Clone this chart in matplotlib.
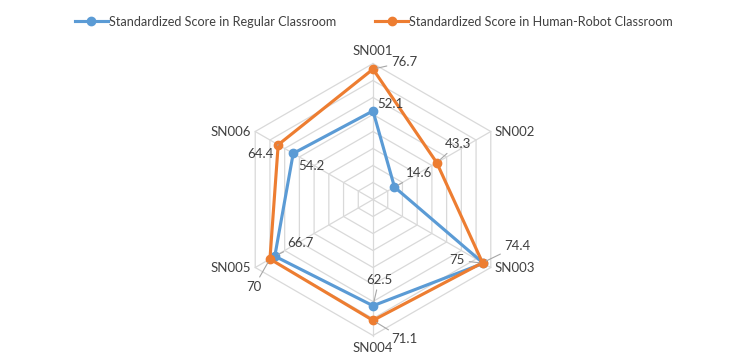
import numpy as np
import matplotlib
matplotlib.use("Agg")
import matplotlib.pyplot as plt

categories = ["SN001", "SN002", "SN003", "SN004", "SN005", "SN006"]
regular = [52.1, 14.6, 75, 62.5, 66.7, 54.2]
robot = [76.7, 43.3, 74.4, 71.1, 70, 64.4]
series_names = ["Standardized Score in Regular Classroom",
                "Standardized Score in Human-Robot Classroom"]
ring_values = [10, 20, 30, 40, 50, 60, 70, 80]

BLUE = "#5B9BD5"
ORANGE = "#ED7D31"
GRID = "#D9D9D9"
LEADER = "#A6A6A6"
TXT = "#404040"

plt.rcParams['font.family'] = ['Lato', 'DejaVu Sans']

# label offsets in pixels (dx, dy up), and whether a leader line is drawn
reg_off = [(17, 7), (25, 14), (-26, 3), (6, 26), (26, 13), (18, -13)]
reg_lead = [False, True, True, True, True, False]
rob_off = [(31, 7), (21, 19), (35, 17), (31, -19), (-16, -28), (-18, -9)]
rob_lead = [True, True, True, True, True, True]

W, H = 748, 364
cx, cy = 373, 199.5          # center in px (from top)
scale = 1.70                 # px per unit
FS = 9.5

fig = plt.figure(figsize=(W / 100, H / 100), dpi=100)
ax = fig.add_axes([0, 0, 1, 1])
ax.set_xlim(-cx / scale, (W - cx) / scale)
ax.set_ylim(-(H - cy) / scale, cy / scale)
ax.axis("off")

n = len(categories)
theta = np.pi / 2 - np.arange(n) * 2 * np.pi / n


def xy(vals):
    v = np.asarray(vals, dtype=float)
    return v * np.cos(theta), v * np.sin(theta)


# hexagonal grid
for r in ring_values:
    gx, gy = xy([r] * n)
    ax.plot(np.append(gx, gx[0]), np.append(gy, gy[0]), color=GRID, lw=0.9, zorder=1)
for i in range(n):
    ax.plot([0, ring_values[-1] * np.cos(theta[i])], [0, ring_values[-1] * np.sin(theta[i])],
            color=GRID, lw=0.9, zorder=1)

# category labels just outside the outer ring
rmax = ring_values[-1]
for i, c in enumerate(categories):
    vx, vy = rmax * np.cos(theta[i]), rmax * np.sin(theta[i])
    if abs(vx) < 1e-6:
        ha, va = "center", ("bottom" if vy > 0 else "top")
        off = (0, 5 if vy > 0 else -5)
    else:
        ha, va = ("left" if vx > 0 else "right"), "center"
        off = (3 if vx > 0 else -3, 0)
    ax.annotate(c, (vx, vy), xytext=off, textcoords="offset points",
                ha=ha, va=va, fontsize=FS, color=TXT)

handles = []
for vals, col, name, offs, leads in [(regular, BLUE, series_names[0], reg_off, reg_lead),
                                     (robot, ORANGE, series_names[1], rob_off, rob_lead)]:
    x, y = xy(vals)
    h, = ax.plot(np.append(x, x[0]), np.append(y, y[0]), color=col, lw=2.25,
                 marker="o", markersize=6, markevery=list(range(n)), zorder=3,
                 label=name, solid_joinstyle="miter")
    handles.append(h)
    for i, v in enumerate(vals):
        dx, dy = offs[i]
        ax.annotate(f"{v:g}", (x[i], y[i]), xytext=(dx * 0.72, dy * 0.72),
                    textcoords="offset points", ha="center", va="center",
                    fontsize=FS, color=TXT, zorder=5,
                    arrowprops=dict(arrowstyle="-", color=LEADER, lw=0.8,
                                    shrinkA=1, shrinkB=3) if leads[i] else None)

ax.legend(handles=handles, loc="upper center", bbox_to_anchor=(0.5, 1.0),
          bbox_transform=fig.transFigure, ncol=2, frameon=False, fontsize=9.1,
          handlelength=2.6, handletextpad=0.1, columnspacing=3.1,
          labelcolor=TXT, borderaxespad=0.85)

fig.savefig("out.png", dpi=100, facecolor="white")
